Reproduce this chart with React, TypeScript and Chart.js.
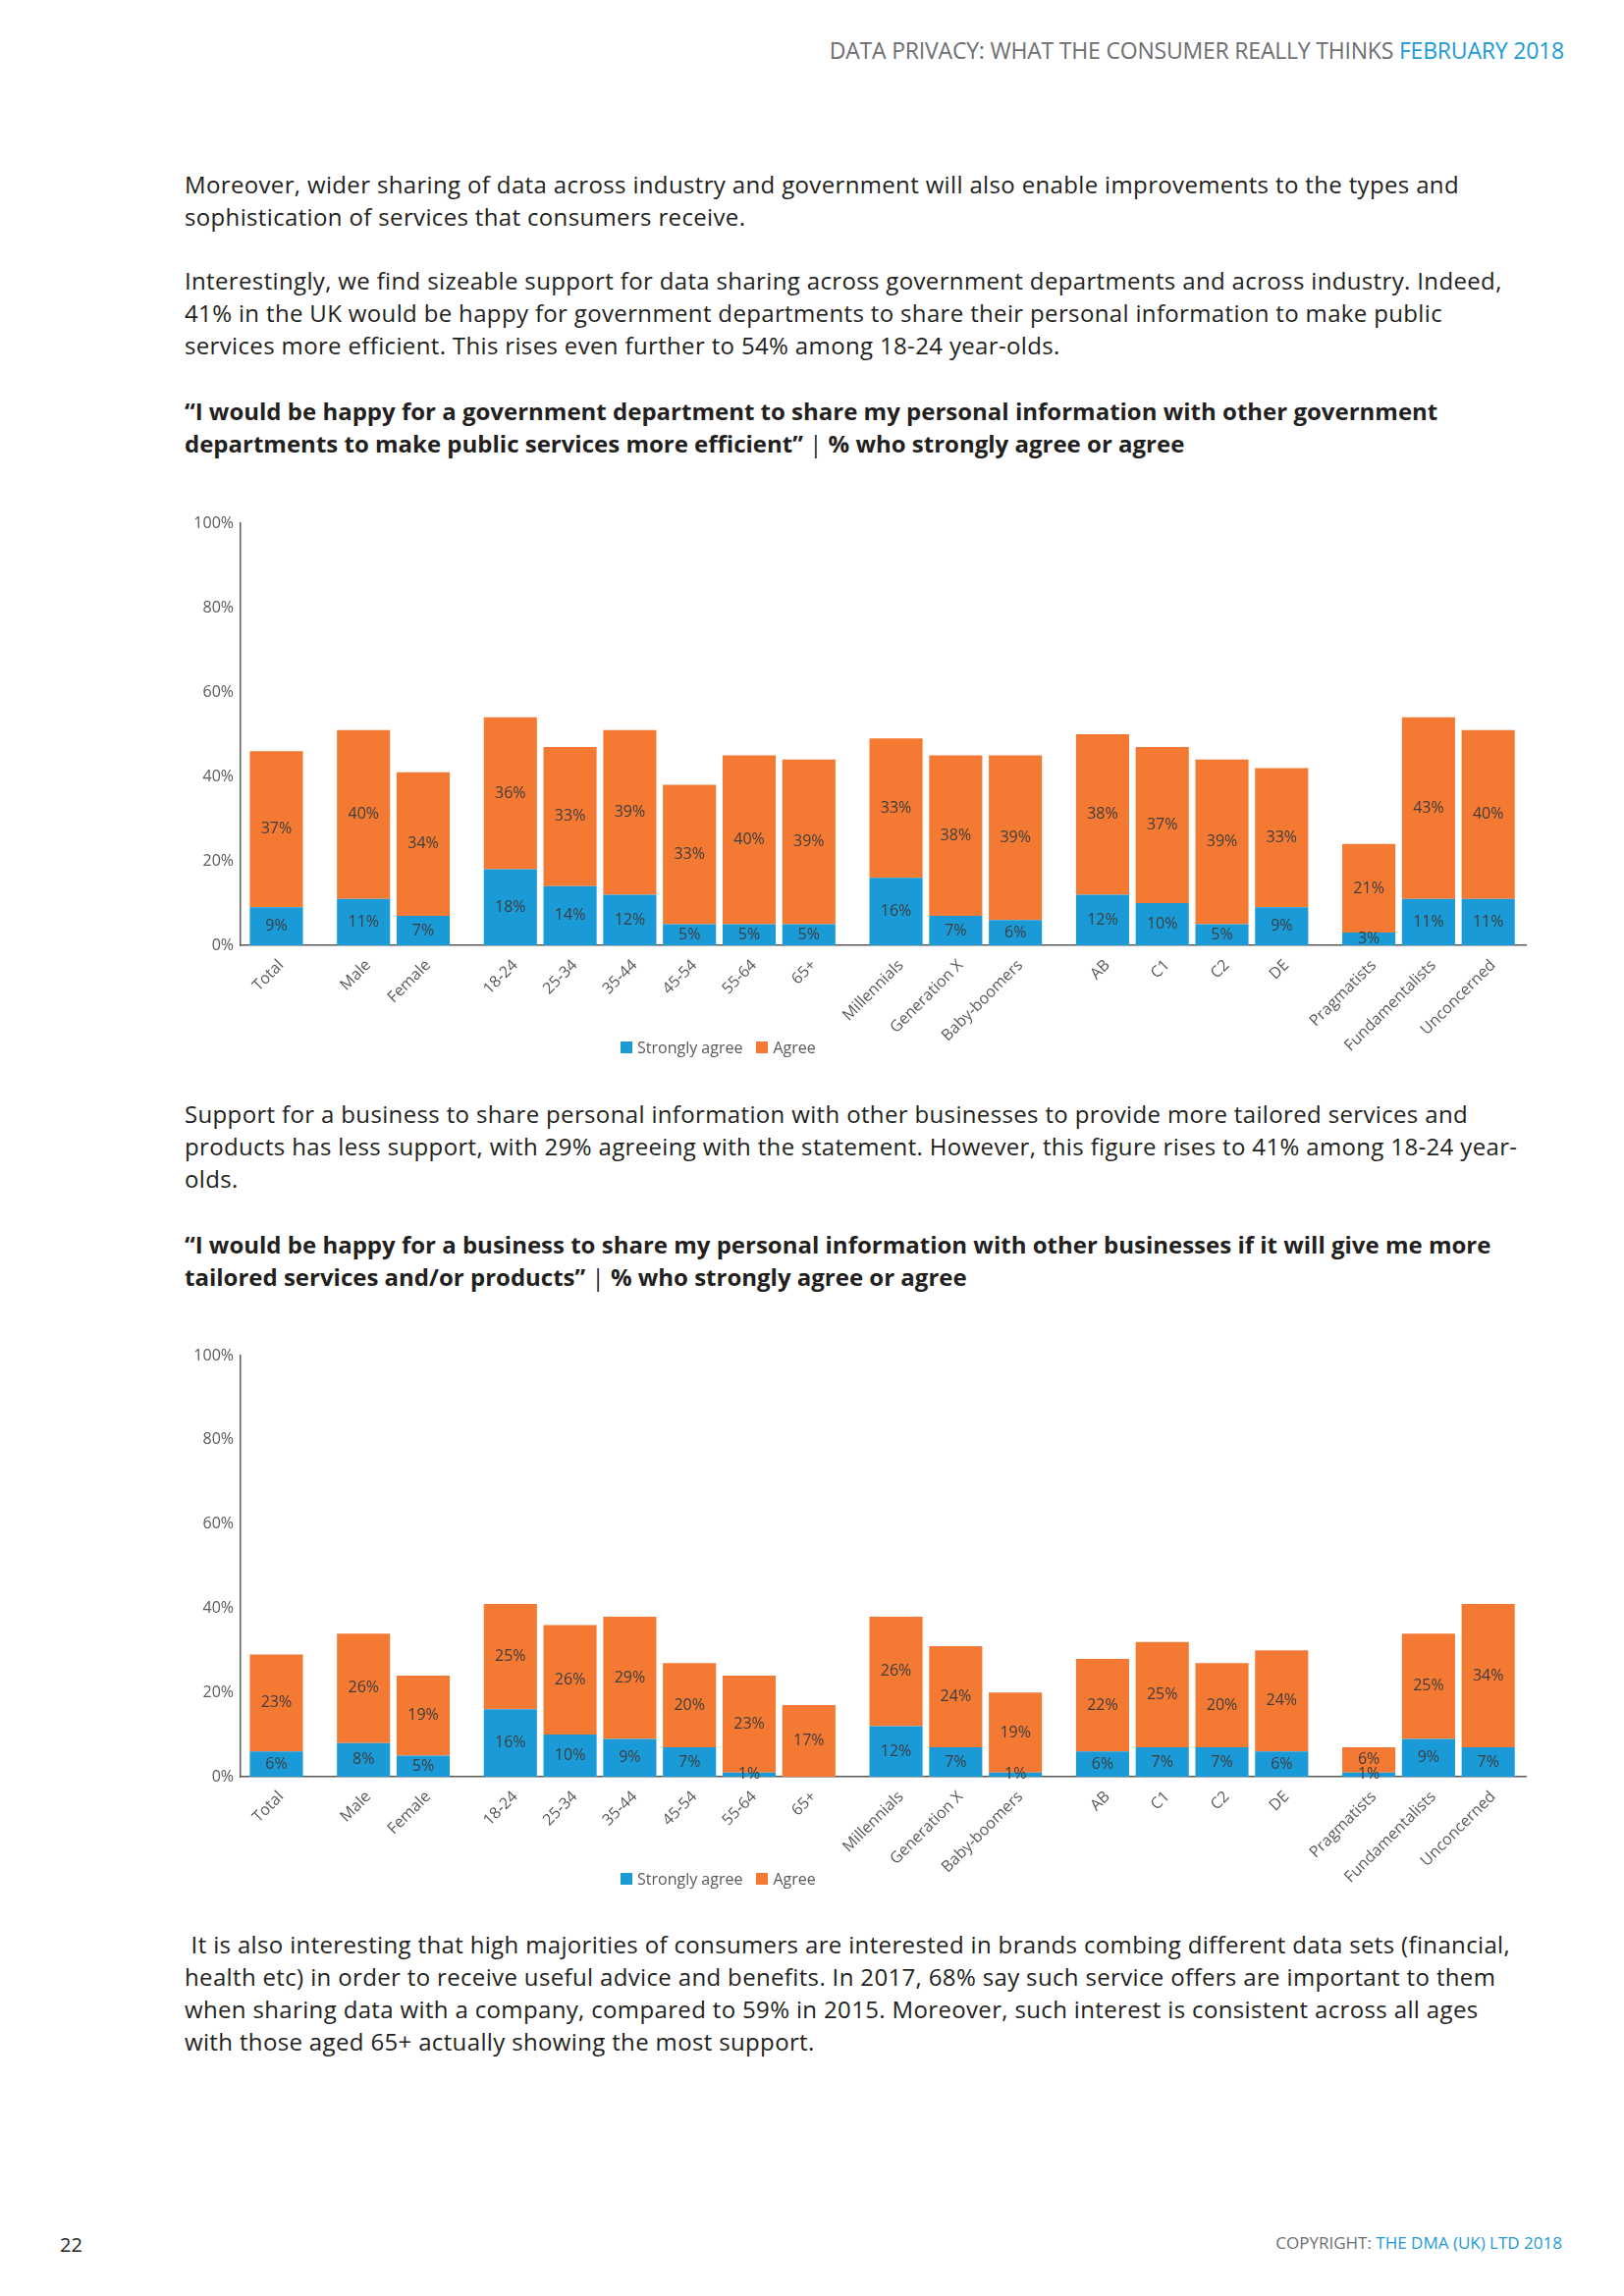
import React, { useEffect, useRef } from 'react';
import { Chart, registerables } from 'chart.js';

Chart.register(...registerables);

// ---------- data ----------
const groups: string[][] = [
  ['Total'],
  ['Male', 'Female'],
  ['18-24', '25-34', '35-44', '45-54', '55-64', '65+'],
  ['Millennials', 'Generation X', 'Baby-boomers'],
  ['AB', 'C1', 'C2', 'DE'],
  ['Pragmatists', 'Fundamentalists', 'Unconcerned'],
];
const seriesNames = ['Strongly agree', 'Agree'];
const govStrongly = [9, 11, 7, 18, 14, 12, 5, 5, 5, 16, 7, 6, 12, 10, 5, 9, 3, 11, 11];
const govAgree = [37, 40, 34, 36, 33, 39, 33, 40, 39, 33, 38, 39, 38, 37, 39, 33, 21, 43, 40];
const bizStrongly = [6, 8, 5, 16, 10, 9, 7, 1, 0, 12, 7, 1, 6, 7, 7, 6, 1, 9, 7];
const bizAgree = [23, 26, 19, 25, 26, 29, 20, 23, 17, 26, 24, 19, 22, 25, 20, 24, 6, 25, 34];
const yTicks = [0, 20, 40, 60, 80, 100];

// ---------- style ----------
const BLUE = '#1a9bd7';
const ORANGE = '#f47a33';
const AXIS = '#595959';
const TICK = '#595959';
const FONT = '"Open Sans", "Noto Sans", sans-serif';
const TEXT = '#231f20';
const HEAD_GRAY = '#6d6e71';
const HEAD_BLUE = '#1b9ad6';

const GROUP_GAP = 0.46;
const categories = groups.flat();
const positions: number[] = [];
groups.forEach((g, gi) => g.forEach(() => positions.push(positions.length + gi * GROUP_GAP)));

const segLabels = {
  id: 'segLabels',
  afterDatasetsDraw(chart: any) {
    const ctx = chart.ctx;
    ctx.save();
    ctx.font = `16px ${FONT}`;
    ctx.fillStyle = '#3d3d3d';
    ctx.textAlign = 'center';
    ctx.textBaseline = 'middle';
    chart.data.datasets.forEach((ds: any, di: number) => {
      const meta = chart.getDatasetMeta(di);
      meta.data.forEach((el: any, i: number) => {
        const v = ds.data[i].y;
        if (!v) return;
        const p = el.getProps(['x', 'y', 'base'], true);
        ctx.fillText(v + '%', p.x, (p.y + p.base) / 2);
      });
    });
    ctx.restore();
  },
};

function StackedChart({ strongly, agree }: { strongly: number[]; agree: number[] }) {
  const ref = useRef<HTMLCanvasElement>(null);
  useEffect(() => {
    const last = positions[positions.length - 1];
    const chart = new Chart(ref.current as HTMLCanvasElement, {
      type: 'bar',
      data: {
        datasets: [
          {
            label: seriesNames[0],
            data: strongly.map((v, i) => ({ x: positions[i], y: v })),
            backgroundColor: BLUE,
            barPercentage: 0.89,
            categoryPercentage: 1,
          },
          {
            label: seriesNames[1],
            data: agree.map((v, i) => ({ x: positions[i], y: v })),
            backgroundColor: ORANGE,
            barPercentage: 0.89,
            categoryPercentage: 1,
          },
        ],
      } as any,
      options: {
        animation: false,
        responsive: true,
        maintainAspectRatio: false,
        layout: { padding: { top: 20, right: 10, left: 0, bottom: 0 } },
        plugins: { legend: { display: false }, tooltip: { enabled: false } },
        scales: {
          x: {
            type: 'linear',
            stacked: true,
            offset: false,
            bounds: 'data',
            min: -0.6,
            max: last + 0.63,
            grid: { display: false, drawTicks: false },
            border: { display: true, color: AXIS, width: 1.5 },
            afterBuildTicks: (s: any) => {
              s.ticks = positions.map((v) => ({ value: v }));
            },
            afterFit: (s: any) => {
              s.height = 120;
            },
            ticks: {
              autoSkip: false,
              minRotation: 45,
              maxRotation: 45,
              padding: 11,
              labelOffset: 5,
              color: TICK,
              font: { family: FONT, size: 16 },
              callback: (_v: any, i: number) => categories[i] ?? '',
            },
          },
          y: {
            stacked: true,
            min: 0,
            max: 100,
            grid: { display: false, drawTicks: false },
            border: { display: true, color: AXIS, width: 1.5 },
            afterBuildTicks: (s: any) => {
              s.ticks = yTicks.map((v) => ({ value: v }));
            },
            afterFit: (s: any) => {
              s.width = 65;
            },
            ticks: {
              padding: 7,
              color: TICK,
              font: { family: FONT, size: 16 },
              callback: (v: any) => v + '%',
            },
          },
        },
      } as any,
      plugins: [segLabels],
    });
    return () => chart.destroy();
  }, [strongly, agree]);
  return <canvas ref={ref} />;
}

function Legend({ top }: { top: number }) {
  const colors = [BLUE, ORANGE];
  return (
    <div
      style={{
        position: 'absolute',
        left: 632,
        top,
        height: 22,
        display: 'flex',
        alignItems: 'center',
        fontFamily: FONT,
        fontSize: 16,
        color: TICK,
        whiteSpace: 'nowrap',
      }}
    >
      {seriesNames.map((n, i) => (
        <span key={n} style={{ display: 'flex', alignItems: 'center', marginRight: 14 }}>
          <span style={{ width: 12, height: 12, background: colors[i], marginRight: 5, display: 'inline-block' }} />
          {n}
        </span>
      ))}
    </div>
  );
}

function Lines({ top, lines, bold }: { top: number; lines: React.ReactNode[]; bold?: boolean }) {
  return (
    <div
      style={{
        position: 'absolute',
        left: 188,
        top,
        fontFamily: FONT,
        fontSize: 24,
        lineHeight: '33px',
        fontWeight: bold ? 700 : 400,
        color: TEXT,
        whiteSpace: 'pre',
        letterSpacing: bold ? '0px' : '0.35px',
      }}
    >
      {lines.map((l, i) => (
        <div key={i}>{l}</div>
      ))}
    </div>
  );
}

const bar = <span style={{ fontWeight: 400 }}>|</span>;

export default function App() {
  return (
    <div style={{ position: 'absolute', left: 0, top: 0, width: 1654, height: 2339, background: '#fff', overflow: 'hidden' }}>
      <div
        style={{
          position: 'absolute',
          right: 1654 - 1593,
          top: 35,
          fontFamily: FONT,
          fontSize: 23,
          lineHeight: '33px',
          letterSpacing: '-0.2px',
          color: HEAD_GRAY,
          whiteSpace: 'nowrap',
        }}
      >
        DATA PRIVACY: WHAT THE CONSUMER REALLY THINKS <span style={{ color: HEAD_BLUE }}>FEBRUARY 2018</span>
      </div>

      <Lines
        top={171}
        lines={[
          'Moreover, wider sharing of data across industry and government will also enable improvements to the types and',
          'sophistication of services that consumers receive.',
        ]}
      />
      <Lines
        top={269}
        lines={[
          'Interestingly, we find sizeable support for data sharing across government departments and across industry. Indeed,',
          '41% in the UK would be happy for government departments to share their personal information to make public',
          'services more efficient. This rises even further to 54% among 18-24 year-olds.',
        ]}
      />
      <Lines
        top={402}
        bold
        lines={[
          '“I would be happy for a government department to share my personal information with other government',
          <>departments to make public services more efficient” {bar} % who strongly agree or agree</>,
        ]}
      />

      <div style={{ position: 'absolute', left: 180, top: 513, width: 1384, height: 570 }}>
        <StackedChart strongly={govStrongly} agree={govAgree} />
      </div>
      <Legend top={1056} />

      <Lines
        top={1118}
        lines={[
          'Support for a business to share personal information with other businesses to provide more tailored services and',
          'products has less support, with 29% agreeing with the statement. However, this figure rises to 41% among 18-24 year-',
          'olds.',
        ]}
      />
      <Lines
        top={1251}
        bold
        lines={[
          '“I would be happy for a business to share my personal information with other businesses if it will give me more',
          <>tailored services and/or products” {bar} % who strongly agree or agree</>,
        ]}
      />

      <div style={{ position: 'absolute', left: 180, top: 1361, width: 1384, height: 569 }}>
        <StackedChart strongly={bizStrongly} agree={bizAgree} />
      </div>
      <Legend top={1903} />

      <Lines
        top={1964}
        lines={[
          ' It is also interesting that high majorities of consumers are interested in brands combing different data sets (financial,',
          'health etc) in order to receive useful advice and benefits. In 2017, 68% say such service offers are important to them',
          'when sharing data with a company, compared to 59% in 2015. Moreover, such interest is consistent across all ages',
          'with those aged 65+ actually showing the most support.',
        ]}
      />

      <div
        style={{
          position: 'absolute',
          left: 61,
          top: 2273,
          fontFamily: FONT,
          fontSize: 20,
          lineHeight: '28px',
          color: TEXT,
        }}
      >
        22
      </div>
      <div
        style={{
          position: 'absolute',
          right: 1654 - 1591,
          top: 2272,
          fontFamily: FONT,
          fontSize: 17,
          lineHeight: '25px',
          letterSpacing: '0px',
          color: HEAD_GRAY,
          whiteSpace: 'nowrap',
        }}
      >
        COPYRIGHT: <span style={{ color: HEAD_BLUE }}>THE DMA (UK) LTD 2018</span>
      </div>
    </div>
  );
}
